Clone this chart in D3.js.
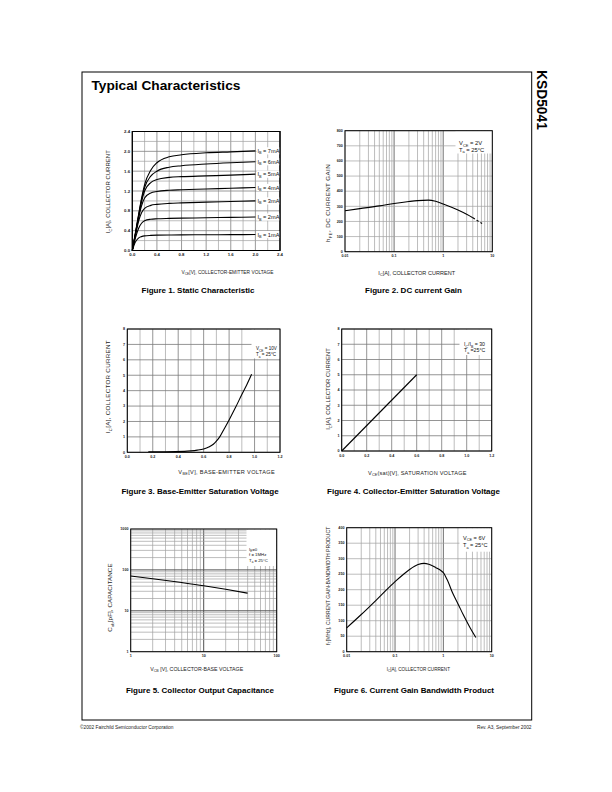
<!DOCTYPE html>
<html><head><meta charset="utf-8">
<script src="https://cdn.jsdelivr.net/npm/d3@7"></script>
<style>body{margin:0;background:#fff}svg{display:block;font-family:"Liberation Sans",Arial,sans-serif}</style>
</head><body>
<script>
// ---------------- DATA ----------------
const fig1Vce = [0, 0.05, 0.1, 0.15, 0.2, 0.3, 0.4, 0.6, 0.8, 1.2, 1.6, 2.0];
const fig1Ic_1mA = [0, 0.17, 0.25, 0.28, 0.295, 0.305, 0.31, 0.312, 0.315, 0.318, 0.32, 0.322];
const fig1Ic_2mA = [0, 0.25, 0.44, 0.55, 0.60, 0.63, 0.64, 0.648, 0.653, 0.66, 0.668, 0.675];
const fig1Ic_3mA = [0, 0.30, 0.58, 0.76, 0.85, 0.91, 0.93, 0.95, 0.96, 0.975, 0.988, 1.0];
const fig1Ic_4mA = [0, 0.32, 0.64, 0.90, 1.06, 1.16, 1.19, 1.215, 1.225, 1.24, 1.255, 1.27];
const fig1Ic_5mA = [0, 0.33, 0.67, 0.98, 1.20, 1.37, 1.43, 1.475, 1.49, 1.505, 1.52, 1.54];
const fig1Ic_6mA = [0, 0.34, 0.69, 1.02, 1.27, 1.50, 1.60, 1.68, 1.71, 1.745, 1.77, 1.79];
const fig1Ic_7mA = [0, 0.35, 0.71, 1.05, 1.33, 1.62, 1.77, 1.89, 1.93, 1.97, 1.99, 2.01];
const fig1Labels = ["I_{B} = 1mA","I_{B} = 2mA","I_{B} = 3mA","I_{B} = 4mA","I_{B} = 5mA","I_{B} = 6mA","I_{B} = 7mA"];
const fig1Ticks = [0, 0.4, 0.8, 1.2, 1.6, 2.0, 2.4];
const fig1TickLabels = ["0.0","0.4","0.8","1.2","1.6","2.0","2.4"];

const fig2Ic = [0.01, 0.02, 0.05, 0.1, 0.2, 0.3, 0.5, 0.7, 1, 2, 3, 4];
const fig2Hfe = [271, 285, 303, 319, 332, 338, 341, 333, 315, 275, 247, 225];
const fig2IcDash = [4, 5, 6.2];
const fig2HfeDash = [225, 205, 187];
const fig2XTicks = [0.01, 0.1, 1, 10];
const fig2XLabels = ["0.01","0.1","1","10"];
const fig2YTicks = [0,100,200,300,400,500,600,700,800];

const fig3Vbe = [0.165, 0.3, 0.45, 0.5, 0.55, 0.6, 0.64, 0.676, 0.7, 0.73, 0.76, 0.8, 0.85, 0.9, 0.94, 0.977];
const fig3Ic  = [0.04, 0.04, 0.06, 0.09, 0.14, 0.22, 0.34, 0.52, 0.72, 1.05, 1.5, 2.1, 2.9, 3.75, 4.4, 5.06];
const fig34XTicks = [0, 0.2, 0.4, 0.6, 0.8, 1.0, 1.2];
const fig34XLabels = ["0.0","0.2","0.4","0.6","0.8","1.0","1.2"];
const fig34YTicks = [0,1,2,3,4,5,6,7,8];

const fig4Vce = [0.0, 0.6];
const fig4Ic  = [0.0, 5.0];

const fig5Vcb = [1, 2, 5, 10, 20, 40];
const fig5Cob = [71, 61, 49, 41, 33.5, 27];
const fig5XTicks = [1, 10, 100];
const fig5YTicks = [1, 10, 100, 1000];

const fig6Ic = [0.01, 0.02, 0.05, 0.1, 0.15, 0.2, 0.3, 0.4, 0.5, 0.7, 0.9, 1.0, 1.2, 1.6, 2.0, 2.6, 3.5, 4.7];
const fig6Ft = [77, 120, 180, 226, 250, 265, 281, 285, 282, 271, 261, 255, 232, 185, 155, 118, 80, 46];
const fig6YTicks = [0,50,100,150,200,250,300,350,400];

// ---------------- DRAWING ----------------
const svg = d3.select("body").append("svg").attr("width", 612).attr("height", 792);

function rich(sel, str, fs) {
  sel.selectAll("tspan").remove();
  const parts = str.split(/(_\{[^}]*\}|\^\{[^}]*\})/).filter(s => s.length);
  let shift = 0;
  parts.forEach(p => {
    let t, size = fs, dy;
    if (p.startsWith("_{")) { t = p.slice(2, -1); size = fs * 0.68; dy = fs * 0.28 - shift; shift = fs * 0.28; }
    else if (p.startsWith("^{")) { t = p.slice(2, -1); size = fs * 0.68; dy = -fs * 0.38 - shift; shift = -fs * 0.38; }
    else { t = p; dy = -shift; shift = 0; }
    sel.append("tspan").attr("font-size", size).attr("dy", dy).text(t);
  });
  return sel;
}
// fit a title to a target length: scale font first (within limits), then letter-spacing
function fitTitle(sel, str, target, fsMin, fsMax) {
  rich(sel, str, 5);
  const len0 = sel.node().getComputedTextLength();
  const fs = Math.max(fsMin, Math.min(fsMax, 5 * target / len0));
  rich(sel.attr("font-size", fs), str, fs);
  const len = sel.node().getComputedTextLength();
  sel.attr("letter-spacing", (target - len) / sel.text().length);
}

function chart(c) {
  const g = svg.append("g");
  const x = (c.xlog ? d3.scaleLog() : d3.scaleLinear()).domain(c.xdom).range([c.l, c.r]);
  const y = (c.ylog ? d3.scaleLog() : d3.scaleLinear()).domain(c.ydom).range([c.b, c.t]);
  const isMaj = (v, arr) => arr.some(m => Math.abs(m - v) < 1e-9 * Math.max(1, Math.abs(m)));
  c.xgrid.forEach(v => {
    const maj = isMaj(v, c.xmaj);
    g.append("line").attr("x1", x(v)).attr("x2", x(v)).attr("y1", c.t).attr("y2", c.b)
      .attr("stroke", maj ? c.majCol : c.minCol).attr("stroke-width", maj ? c.majW : c.minW);
  });
  c.ygrid.forEach(v => {
    const maj = isMaj(v, c.ymaj);
    g.append("line").attr("y1", y(v)).attr("y2", y(v)).attr("x1", c.l).attr("x2", c.r)
      .attr("stroke", maj ? c.majCol : c.minCol).attr("stroke-width", maj ? c.majW : c.minW);
  });
  if (c.legend) {
    const L = c.legend;
    g.append("rect").attr("x", L.box[0]).attr("y", L.box[1]).attr("width", L.box[2]).attr("height", L.box[3]).attr("fill", "#fff");
    L.lines.forEach((s, i) => {
      rich(g.append("text").attr("x", L.x).attr("y", L.y0 + i * L.dy).attr("font-size", L.fs).attr("fill", "#111"), s, L.fs);
    });
  }
  const line = d3.line().x(d => x(d[0])).y(d => y(d[1])).curve(d3.curveMonotoneX);
  c.curves.forEach(cv => {
    g.append("path").attr("d", line(d3.zip(cv.x, cv.y))).attr("fill", "none")
      .attr("stroke", "#000").attr("stroke-width", 1.1).attr("stroke-dasharray", cv.dash || null);
  });
  g.append("rect").attr("x", c.l).attr("y", c.t).attr("width", c.r - c.l).attr("height", c.b - c.t)
    .attr("fill", "none").attr("stroke", "#000").attr("stroke-width", 1);
  c.xticks.forEach((v, i) => g.append("text").attr("x", x(v)).attr("y", c.b + c.xtOff).attr("text-anchor", "middle")
    .attr("font-size", c.tfs).attr("font-weight", "bold").attr("fill", "#222").text(c.xtl[i]));
  c.yticks.forEach((v, i) => g.append("text").attr("x", c.l - 2.2).attr("y", y(v) + c.tfs * 0.35).attr("text-anchor", "end")
    .attr("font-size", c.tfs).attr("font-weight", "bold").attr("fill", "#222").text(c.ytl[i]));
  const xt = g.append("text").attr("x", c.xTitle.cx).attr("y", c.xTitle.y).attr("text-anchor", "middle").attr("fill", "#222");
  fitTitle(xt, c.xTitle.s, c.xTitle.len, 4.6, 5.6);
  const yt = g.append("text").attr("transform", `translate(${c.yTitle.x},${c.yTitle.cy}) rotate(-90)`)
    .attr("text-anchor", "middle").attr("fill", "#222");
  fitTitle(yt, c.yTitle.s, c.yTitle.len, 4.6, 6.2);
  svg.append("text").attr("x", c.cap.cx).attr("y", c.cap.y).attr("text-anchor", "middle")
    .attr("font-size", 8).attr("font-weight", "bold").attr("fill", "#000").text(c.cap.s);
  return {g, x, y};
}

const lin = (a, b, s) => d3.range(a, b + s / 2, s);
const logGrid = (a, b) => { const out = []; for (let d = a; d < b; d *= 10) for (let k = 1; k < 10; k++) out.push(k * d); out.push(b); return out; };

// Page frame & header
svg.append("rect").attr("x", 82).attr("y", 72).attr("width", 449.7).attr("height", 648)
  .attr("fill", "none").attr("stroke", "#000").attr("stroke-width", 1);
svg.append("text").attr("x", 91.5).attr("y", 90).attr("font-size", 13.7).attr("font-weight", "bold").text("Typical Characteristics");
svg.append("text").attr("transform", "translate(537,70) rotate(90)").attr("font-size", 13.8).attr("font-weight", "bold").text("KSD5041");
svg.append("text").attr("x", 80).attr("y", 729).attr("font-size", 4.8).attr("fill", "#222").text("©2002 Fairchild Semiconductor Corporation");
svg.append("text").attr("x", 531.5).attr("y", 729).attr("text-anchor", "end").attr("font-size", 4.8).attr("fill", "#222").text("Rev. A3, September 2002");

// Figure 1
const f1 = chart({
  l: 132.3, r: 280, t: 131.5, b: 250.5, xdom: [0, 2.4], ydom: [0, 2.4],
  xgrid: lin(0, 2.4, 0.2), ygrid: lin(0, 2.4, 0.2), xmaj: fig1Ticks, ymaj: fig1Ticks,
  majCol: "#808080", minCol: "#a0a0a0", majW: 0.8, minW: 0.7,
  curves: [fig1Ic_1mA, fig1Ic_2mA, fig1Ic_3mA, fig1Ic_4mA, fig1Ic_5mA, fig1Ic_6mA, fig1Ic_7mA].map(a => ({x: fig1Vce, y: a})),
  xticks: fig1Ticks, xtl: fig1TickLabels, yticks: fig1Ticks, ytl: fig1TickLabels, tfs: 4.3, xtOff: 5.3,
  xTitle: {s: "V_{CE}[V], COLLECTOR-EMITTER VOLTAGE", cx: 227.5, y: 273.5, len: 92},
  yTitle: {s: "I_{C}[A], COLLECTOR CURRENT", x: 110, cy: 191.7, len: 83},
  cap: {s: "Figure 1. Static Characteristic", cx: 198, y: 293}
});
[fig1Ic_1mA, fig1Ic_2mA, fig1Ic_3mA, fig1Ic_4mA, fig1Ic_5mA, fig1Ic_6mA, fig1Ic_7mA].forEach((a, i) => {
  const yy = f1.y(a[a.length - 1]);
  const x0 = f1.x(fig1Vce[fig1Vce.length - 1]);
  f1.g.append("rect").attr("x", x0 + 1).attr("y", yy - 3.6).attr("width", 280 - x0 - 1.5).attr("height", 7.2).attr("fill", "#fff");
  rich(f1.g.append("text").attr("x", x0 + 2).attr("y", yy + 2).attr("font-size", 5.6).attr("fill", "#111"), fig1Labels[i], 5.6);
});
f1.g.append("rect").attr("x", 132.3).attr("y", 131.5).attr("width", 147.7).attr("height", 119).attr("fill", "none").attr("stroke", "#000");

// Figure 2
chart({
  l: 345, r: 492.3, t: 130.7, b: 251.7, xlog: true, xdom: [0.01, 10], ydom: [0, 800],
  xgrid: logGrid(0.01, 10), ygrid: fig2YTicks, xmaj: [0.1, 1], ymaj: [],
  majCol: "#606060", minCol: "#a0a0a0", majW: 0.9, minW: 0.7,
  legend: {box: [455.5, 131, 36.5, 22.5], x: 459, y0: 145.2, dy: 6.4, fs: 5.8, lines: ["V_{CE} = 2V", "T_{a} = 25°C"]},
  curves: [{x: fig2Ic, y: fig2Hfe}, {x: fig2IcDash, y: fig2HfeDash, dash: "2.5,2"}],
  xticks: fig2XTicks, xtl: fig2XLabels, yticks: fig2YTicks, ytl: fig2YTicks.map(String), tfs: 3.7, xtOff: 5.6,
  xTitle: {s: "I_{C}[A], COLLECTOR CURRENT", cx: 416.7, y: 274.5, len: 76.7},
  yTitle: {s: "h_{FE}, DC CURRENT GAIN", x: 330, cy: 203, len: 78},
  cap: {s: "Figure 2. DC current Gain", cx: 413.5, y: 293}
});

// Figure 3
chart({
  l: 127.3, r: 280, t: 329, b: 452.3, xdom: [0, 1.2], ydom: [0, 8],
  xgrid: lin(0, 1.2, 0.1), ygrid: fig34YTicks, xmaj: fig34XTicks, ymaj: fig34YTicks,
  majCol: "#7a7a7a", minCol: "#a0a0a0", majW: 0.8, minW: 0.7,
  legend: {box: [251.5, 329.5, 28, 29], x: 256, y0: 350.3, dy: 6, fs: 4.6, lines: ["V_{CE} = 10V", "T_{a} = 25°C"]},
  curves: [{x: fig3Vbe, y: fig3Ic}],
  xticks: fig34XTicks, xtl: fig34XLabels, yticks: fig34YTicks, ytl: fig34YTicks.map(String), tfs: 3.7, xtOff: 5.6,
  xTitle: {s: "V_{BE}[V], BASE-EMITTER VOLTAGE", cx: 226.7, y: 473.5, len: 96.7},
  yTitle: {s: "I_{C}[A], COLLECTOR CURRENT", x: 110, cy: 386.7, len: 93},
  cap: {s: "Figure 3. Base-Emitter Saturation Voltage", cx: 200, y: 494}
});

// Figure 4
chart({
  l: 341.7, r: 491.7, t: 329, b: 451, xdom: [0, 1.2], ydom: [0, 8],
  xgrid: lin(0, 1.2, 0.1), ygrid: fig34YTicks, xmaj: fig34XTicks, ymaj: fig34YTicks,
  majCol: "#7a7a7a", minCol: "#a0a0a0", majW: 0.8, minW: 0.7,
  legend: {box: [459.5, 329.5, 31.7, 25.5], x: 464, y0: 346.3, dy: 6, fs: 5.2, lines: ["I_{C}/I_{B} = 30", "T_{a} =25°C"]},
  curves: [{x: fig4Vce, y: fig4Ic}],
  xticks: fig34XTicks, xtl: fig34XLabels, yticks: fig34YTicks, ytl: fig34YTicks.map(String), tfs: 3.7, xtOff: 5.6,
  xTitle: {s: "V_{CE}(sat)[V], SATURATION VOLTAGE", cx: 417.3, y: 474.5, len: 98.7},
  yTitle: {s: "I_{C}[A], COLLECTOR CURRENT", x: 330, cy: 389, len: 81.7},
  cap: {s: "Figure 4. Collector-Emitter Saturation Voltage", cx: 413.5, y: 494}
});

// Figure 5
chart({
  l: 130.7, r: 276.7, t: 529, b: 651.7, xlog: true, ylog: true, xdom: [1, 100], ydom: [1, 1000],
  xgrid: logGrid(1, 100), ygrid: logGrid(1, 1000), xmaj: [10], ymaj: [10, 100],
  majCol: "#505050", minCol: "#a0a0a0", majW: 1.0, minW: 0.7,
  legend: {box: [246.5, 529.5, 29.7, 36.5], x: 249, y0: 550.8, dy: 5.6, fs: 4.3, lines: ["I_{E}=0", "f = 1MHz", "T_{a} = 25°C"]},
  curves: [{x: fig5Vcb, y: fig5Cob}],
  xticks: fig5XTicks, xtl: fig5XTicks.map(String), yticks: fig5YTicks, ytl: fig5YTicks.map(String), tfs: 3.7, xtOff: 5.6,
  xTitle: {s: "V_{CB} [V], COLLECTOR-BASE VOLTAGE", cx: 196.7, y: 671, len: 93},
  yTitle: {s: "C_{ob}[pF], CAPACITANCE", x: 111.8, cy: 597.5, len: 68.3},
  cap: {s: "Figure 5. Collector Output Capacitance", cx: 200, y: 693}
});

// Figure 6
chart({
  l: 346.7, r: 491.7, t: 527.7, b: 651.7, xlog: true, xdom: [0.01, 10], ydom: [0, 400],
  xgrid: logGrid(0.01, 10), ygrid: fig6YTicks, xmaj: [0.1, 1], ymaj: [],
  majCol: "#606060", minCol: "#a0a0a0", majW: 0.9, minW: 0.7,
  legend: {box: [459.5, 528.2, 31.7, 23.5], x: 463, y0: 539.8, dy: 7.5, fs: 5.6, lines: ["V_{CE} = 6V", "T_{a} = 25°C"]},
  curves: [{x: fig6Ic, y: fig6Ft}],
  xticks: fig2XTicks, xtl: fig2XLabels, yticks: fig6YTicks, ytl: fig6YTicks.map(String), tfs: 3.7, xtOff: 5.6,
  xTitle: {s: "I_{C}[A], COLLECTOR CURRENT", cx: 418.3, y: 671, len: 63.3},
  yTitle: {s: "f_{T}[MHz], CURRENT GAIN-BANDWIDTH PRODUCT", x: 330, cy: 585.8, len: 118.3},
  cap: {s: "Figure 6. Current Gain Bandwidth Product", cx: 414, y: 693}
});
</script>
</body></html>
